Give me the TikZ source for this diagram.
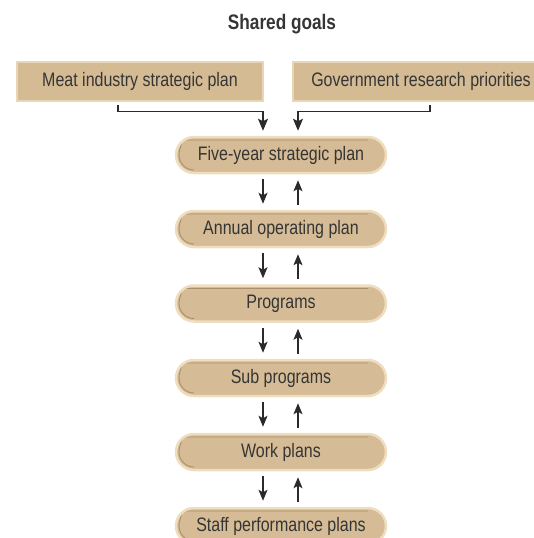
\documentclass[tikz,border=0pt]{standalone}
\usepackage{fontspec}
\setmainfont{Liberation Sans}[FakeStretch=0.82]
\usetikzlibrary{arrows.meta}
\definecolor{pilltan}{HTML}{D5BC96}
\definecolor{pillrim}{HTML}{EEDDBF}
\definecolor{pilldark}{HTML}{A98F6B}
\definecolor{boxtan}{HTML}{D5BB94}
\definecolor{boxrim}{HTML}{E9D6B6}
\definecolor{textgray}{HTML}{353535}
\definecolor{linegray}{HTML}{2A2A2A}
\tikzset{
  pill/.style = {rectangle, rounded corners = 18pt, minimum width = 210pt,
    minimum height = 36pt, fill = pilltan, draw = pillrim, line width = 2.5pt,
    text = textgray, font = \fontsize{19.5}{22}\selectfont,
    path picture = {\draw[pilldark, line width = 0.9pt]
      ([shift = {(18pt, 3pt)}]path picture bounding box.south west)
      arc[start angle = 270, end angle = 90, radius = 15pt]
      -- ([shift = {(-18pt, -3pt)}]path picture bounding box.north east);}},
  plan/.style = {rectangle, minimum height = 39pt, fill = boxtan, draw = boxrim,
    line width = 2pt, text = textgray, font = \fontsize{19.5}{22}\selectfont},
  feed/.style = {draw = linegray, line width = 1.2pt,
    -{Stealth[length = 12pt, width = 10pt, inset = 2.5pt]}, shorten <= 3pt, shorten >= 5pt},
  flow/.style = {draw = linegray, line width = 1.2pt,
    -{Stealth[length = 11pt, width = 9pt, inset = 2.5pt]}, shorten <= 5pt, shorten >= 6pt}
}

\begin{document}
\begin{tikzpicture}[x = 1pt, y = -1pt]
  \useasboundingbox (0, 0) rectangle (534, 538);

  \node[text = textgray, font = \fontsize{21}{24}\selectfont\bfseries] (goals) at (282, 24) {Shared goals};

  \node[plan, minimum width = 246pt] (meat) at (140, 81.5) {Meat industry strategic plan};
  \node[plan, minimum width = 256pt] (gov) at (421, 81.5) {Government research priorities};

  \node[pill] (five) at (281, 155) {Five-year strategic plan};
  \node[pill] (annual) at (281, 229) {Annual operating plan};
  \node[pill] (prog) at (281, 303.5) {Programs};
  \node[pill] (sub) at (281, 378) {Sub programs};
  \node[pill] (work) at (281, 452) {Work plans};
  \node[pill] (staff) at (281, 526) {Staff performance plans};

  \draw[feed] ([xshift = -22pt]meat.south) |- ([xshift = -18pt, yshift = 24pt]five.north)
    -- ([xshift = -18pt]five.north);
  \draw[feed] ([xshift = 9pt]gov.south) |- ([xshift = 17pt, yshift = 24pt]five.north)
    -- ([xshift = 17pt]five.north);

  \draw[flow] ([xshift = -18pt]five.south) -- ([xshift = -18pt]annual.north);
  \draw[flow] ([xshift = 17pt]annual.north) -- ([xshift = 17pt]five.south);
  \draw[flow] ([xshift = -18pt]annual.south) -- ([xshift = -18pt]prog.north);
  \draw[flow] ([xshift = 17pt]prog.north) -- ([xshift = 17pt]annual.south);
  \draw[flow] ([xshift = -18pt]prog.south) -- ([xshift = -18pt]sub.north);
  \draw[flow] ([xshift = 17pt]sub.north) -- ([xshift = 17pt]prog.south);
  \draw[flow] ([xshift = -18pt]sub.south) -- ([xshift = -18pt]work.north);
  \draw[flow] ([xshift = 17pt]work.north) -- ([xshift = 17pt]sub.south);
  \draw[flow] ([xshift = -18pt]work.south) -- ([xshift = -18pt]staff.north);
  \draw[flow] ([xshift = 17pt]staff.north) -- ([xshift = 17pt]work.south);
\end{tikzpicture}
\end{document}
